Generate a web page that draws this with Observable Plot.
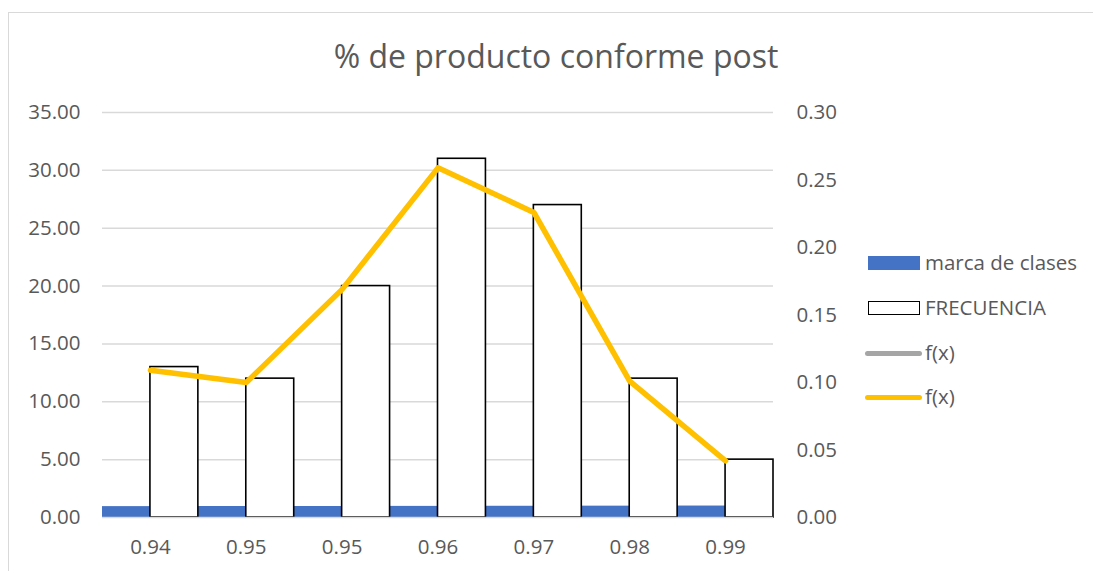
<!DOCTYPE html>
<html>
<head>
<meta charset="utf-8">
<script src="https://cdn.jsdelivr.net/npm/d3@7"></script>
<script src="https://cdn.jsdelivr.net/npm/@observablehq/plot@0.6"></script>
<style>
  body { margin: 0; background: #fff; }
  #chart { position: relative; width: 1093px; height: 571px; overflow: hidden; font-family: "Open Sans", sans-serif; color: #595959; }
  #frame { position: absolute; left: 8px; top: 12px; width: 1200px; height: 700px; border-left: 1.5px solid #d9d9d9; border-top: 1.5px solid #d9d9d9; }
  #title { position: absolute; left: 556px; top: 34px; transform: translateX(-50%); font-size: 32px; line-height: 44px; white-space: nowrap; }
  #plot { position: absolute; left: 0; top: 0; }
  .lg { position: absolute; font-size: 20.5px; line-height: 24px; white-space: nowrap; }
  .sw { position: absolute; box-sizing: border-box; }
</style>
</head>
<body>
<div id="chart">
  <div id="frame"></div>
  <div id="plot"></div>
  <div id="title">% de producto conforme post</div>
  <div class="sw" style="left:868px;top:256px;width:52px;height:14px;background:#4472C4"></div>
  <div class="lg" style="left:925px;top:250px">marca de clases</div>
  <div class="sw" style="left:868px;top:301px;width:52px;height:14px;background:#fff;border:1.5px solid #000"></div>
  <div class="lg" style="left:925px;top:295px">FRECUENCIA</div>
  <div class="sw" style="left:865px;top:351px;width:57px;height:5px;border-radius:3px;background:#A5A5A5"></div>
  <div class="lg" style="left:925px;top:340px">f(x)</div>
  <div class="sw" style="left:865px;top:395px;width:57px;height:5px;border-radius:3px;background:#FFC000"></div>
  <div class="lg" style="left:925px;top:384px">f(x)</div>
</div>
<script>
const categories = ["0.94", "0.95", "0.95", "0.96", "0.97", "0.98", "0.99"];
const marcaDeClases = [0.94, 0.95, 0.95, 0.96, 0.97, 0.98, 0.99];
const frecuencia = [13, 12, 20, 31, 27, 12, 5];
const fxValues = [0.109, 0.100, 0.169, 0.259, 0.226, 0.101, 0.042];
const leftTicks = [0, 5, 10, 15, 20, 25, 30, 35];
const rightTicks = [0, 0.05, 0.10, 0.15, 0.20, 0.25, 0.30];

const leftMax = 35, rightMax = 0.30;
const ratio = leftMax / rightMax;

const data = categories.map((c, i) => ({
  i, cat: c, marca: marcaDeClases[i], frec: frecuencia[i], fx: fxValues[i]
}));

const chart = Plot.plot({
  width: 1093,
  height: 571,
  marginLeft: 102,
  marginRight: 320,
  marginTop: 112,
  marginBottom: 54,
  x: { domain: [0, categories.length], axis: null },
  y: { domain: [0, leftMax], axis: null },
  style: { fontFamily: "'Open Sans', sans-serif", fontSize: "20.5px", color: "#595959", background: "transparent", overflow: "visible" },
  marks: [
    Plot.ruleY(leftTicks.slice(1), { stroke: "#d9d9d9", strokeWidth: 1.5 }),
    Plot.rectY(data, { x1: d => d.i, x2: d => d.i + 0.5, y1: 0, y2: "marca", fill: "#4472C4" }),
    Plot.rectY(data, { x1: d => d.i + 0.5, x2: d => d.i + 1, y1: 0, y2: "frec", fill: "#fff", stroke: "#000", strokeWidth: 1.6 }),
    Plot.ruleY([0], { stroke: "#d9d9d9", strokeWidth: 1.5 }),
    Plot.lineY(data, { x: d => d.i + 0.5, y: d => d.fx * ratio, stroke: "#FFC000", strokeWidth: 5.5, strokeLinejoin: "round", strokeLinecap: "round" }),
    Plot.axisY(leftTicks, { anchor: "left", tickSize: 0, tickPadding: 22, fontSize: 20.5, tickFormat: d => d.toFixed(2), fill: "#595959" }),
    Plot.axisY(rightTicks.map(v => v * ratio), { anchor: "right", tickSize: 0, tickPadding: 23, fontSize: 20.5, tickFormat: d => (d / ratio).toFixed(2), fill: "#595959" }),
    Plot.axisX(data.map(d => d.i + 0.5), { anchor: "bottom", tickSize: 0, tickPadding: 22, fontSize: 20.5, tickFormat: d => categories[Math.floor(d)], fill: "#595959" })
  ]
});
document.getElementById("plot").appendChild(chart);
</script>
</body>
</html>
